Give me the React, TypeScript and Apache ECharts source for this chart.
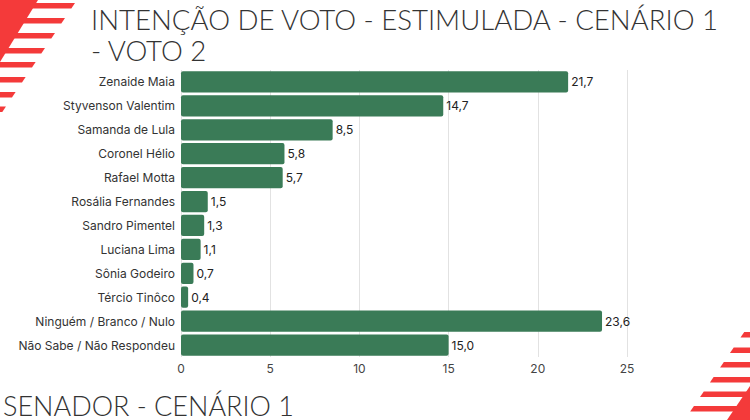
import { useEffect, useRef } from 'react'
import * as echarts from 'echarts'

const categories = [
  'Zenaide Maia',
  'Styvenson Valentim',
  'Samanda de Lula',
  'Coronel Hélio',
  'Rafael Motta',
  'Rosália Fernandes',
  'Sandro Pimentel',
  'Luciana Lima',
  'Sônia Godeiro',
  'Tércio Tinôco',
  'Ninguém / Branco / Nulo',
  'Não Sabe / Não Respondeu'
]

const votes = [21.7, 14.7, 8.5, 5.8, 5.7, 1.5, 1.3, 1.1, 0.7, 0.4, 23.6, 15.0]

const RED = '#f43a3a'
const TITLE_FONT = 'Lato, "Open Sans", sans-serif'

// stripe bands (top y, bottom y)
const topStripes = [
  [3, 8.5], [18, 23.5], [33, 38.5], [48, 53.5], [62, 67.5], [77, 82.5], [92, 97.5], [106.5, 112]
]
const bottomStripes = [
  [332, 337.5], [347.5, 353], [362, 367.5], [377, 382.5], [391.5, 397], [406, 411.5]
]

function buildDecor() {
  const tlEdge = (y: number) => 77 - 0.667 * y
  const brEdge = (y: number) => 970 - 0.68 * y
  const els: any[] = []
  els.push({
    type: 'polygon',
    shape: { points: [[0, 0], [38, 0], [0, 62]] },
    style: { fill: RED }
  })
  topStripes.forEach(([a, b]) => {
    els.push({
      type: 'polygon',
      shape: { points: [[0, a], [tlEdge(a), a], [tlEdge(b), b], [0, b]] },
      style: { fill: RED }
    })
  })
  els.push({
    type: 'polygon',
    shape: { points: [[727, 420], [750, 386], [750, 420]] },
    style: { fill: RED }
  })
  bottomStripes.forEach(([a, b]) => {
    els.push({
      type: 'polygon',
      shape: { points: [[brEdge(a), a], [750, a], [750, b], [brEdge(b), b]] },
      style: { fill: RED }
    })
  })
  return els
}

function titleText(text: string, x: number, y: number, size = 27.6) {
  return {
    type: 'text',
    x,
    y,
    style: {
      text,
      fill: '#333333',
      font: `300 ${size}px ${TITLE_FONT}`,
      textVerticalAlign: 'middle'
    }
  }
}

export default function App() {
  const ref = useRef<HTMLDivElement | null>(null)

  useEffect(() => {
    document.body.style.margin = '0'
    if (!ref.current) return
    const chart = echarts.init(ref.current, undefined, { renderer: 'svg' })

    chart.setOption({
      animation: false,
      backgroundColor: '#ffffff',
      textStyle: { fontFamily: 'Inter, Roboto, sans-serif' },
      grid: { left: 181, right: 123, top: 70, bottom: 63 },
      xAxis: {
        type: 'value',
        min: 0,
        max: 25,
        interval: 5,
        axisLine: { show: false },
        axisTick: { show: false },
        axisLabel: { color: '#444', fontSize: 12, margin: 5 },
        splitLine: { lineStyle: { color: '#e2e2e2' } }
      },
      yAxis: {
        type: 'category',
        inverse: true,
        data: categories,
        axisLine: { show: false },
        axisTick: { show: false },
        axisLabel: { color: '#333', fontSize: 12, margin: 6 }
      },
      series: [
        {
          type: 'bar',
          data: votes,
          barCategoryGap: '11%',
          itemStyle: {
            color: '#3a7b57',
            borderRadius: 2
          },
          label: {
            show: true,
            position: 'right',
            distance: 3,
            color: '#222',
            fontSize: 12,
            formatter: (p: any) => Number(p.value).toFixed(1).replace('.', ',')
          }
        }
      ],
      graphic: [
        ...buildDecor(),
        titleText('INTENÇÃO DE VOTO - ESTIMULADA - CENÁRIO 1', 91, 19),
        titleText('- VOTO 2', 91, 50),
        titleText('SENADOR - CENÁRIO 1', 3, 405, 27)
      ]
    })

    return () => {
      chart.dispose()
    }
  }, [])

  return <div ref={ref} style={{ width: 750, height: 420 }} />
}
